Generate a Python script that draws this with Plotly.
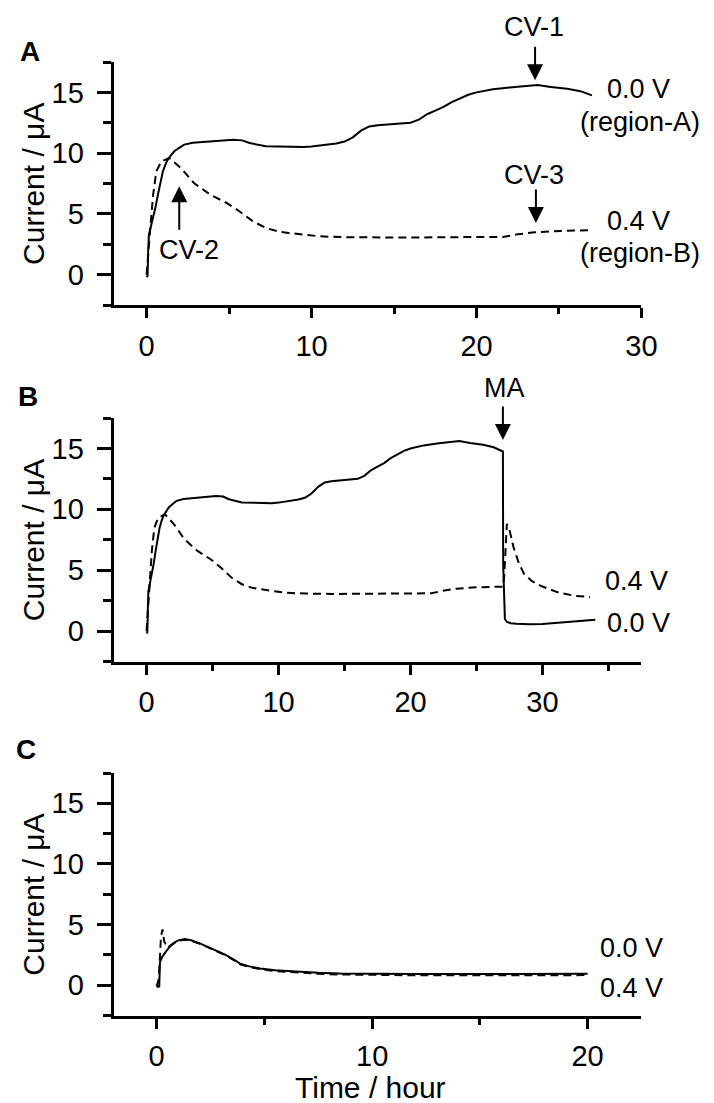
import plotly.graph_objects as go

# ---------------- data ----------------
# Panel A / B, 0.0 V (solid), time in hours, current in uA
t_00 = [0, 0.06, 0.1, 0.14, 0.25, 0.4, 0.55, 0.69, 0.85, 0.99, 1.15, 1.28, 1.5, 1.68, 2.0,
        2.28, 2.8, 3.27, 4.26, 5.25, 5.8, 6.24, 7.23, 8.6, 9.5, 10.0, 11.0, 11.5, 12.0, 12.5,
        13.0, 13.5, 14.0, 15.0, 16.0, 16.5, 17.0, 17.5, 18.0, 18.5, 19.0, 19.5, 20.0, 21.0,
        22.0, 23.0, 23.7, 24.5, 25.5, 26.3, 27.0]
i_00 = [-0.2, -0.1, 2.0, 3.3, 3.9, 4.66, 5.6, 6.6, 7.6, 8.5, 9.1, 9.46, 9.85, 10.15, 10.45,
        10.7, 10.85, 10.9, 10.95, 11.1, 11.05, 10.83, 10.56, 10.5, 10.5, 10.55, 10.7, 10.8,
        10.95, 11.3, 11.85, 12.2, 12.3, 12.4, 12.5, 12.75, 13.2, 13.5, 13.8, 14.2, 14.5, 14.8,
        15.0, 15.25, 15.4, 15.5, 15.6, 15.45, 15.3, 15.1, 14.75]

# Panel A / B, 0.4 V (dashed)
t_04 = [0, 0.08, 0.17, 0.26, 0.4, 0.59, 0.89, 1.38, 2.08, 2.87, 3.86, 4.85, 5.64, 6.43, 7.23,
        8.0, 8.6, 9.5, 10.5, 12.0, 14.0, 16.0, 18.0, 20.0, 21.6, 22.4, 23.5, 25.1, 26.0, 27.0]
i_04 = [0, 1.5, 3.3, 4.4, 6.6, 8.5, 9.3, 9.6, 8.77, 7.54, 6.58, 5.9, 5.2, 4.4, 3.84, 3.55,
        3.43, 3.3, 3.15, 3.08, 3.05, 3.05, 3.08, 3.1, 3.1, 3.3, 3.48, 3.6, 3.62, 3.65]

# Panel B, after MA addition (t > 27 h)
t_00_ma = [27.0, 27.02, 27.08, 27.15, 27.3, 27.6, 28.0, 29.0, 30.0, 31.0, 32.0, 33.0, 34.0]
i_00_ma = [14.75, 5.5, 2.0, 1.0, 0.75, 0.65, 0.6, 0.55, 0.58, 0.65, 0.72, 0.82, 0.92]
t_04_ma = [27.0, 27.1, 27.2, 27.3, 27.5, 27.8, 28.2, 28.6, 29.2, 29.9, 31.1, 32.4, 33.6]
i_04_ma = [3.65, 4.5, 6.5, 8.8, 8.3, 6.9, 5.6, 4.7, 4.1, 3.7, 3.2, 2.9, 2.8]

# Panel C
t_c00 = [0.0, 0.12, 0.15, 0.25, 0.4, 0.6, 0.8, 1.0, 1.3, 1.6, 2.0, 2.4, 2.8, 3.2, 3.6, 3.9,
         4.3, 4.8, 5.5, 6.5, 7.5, 8.5, 10, 12, 14, 16, 18, 20]
i_c00 = [-0.15, -0.1, 1.9, 2.3, 2.7, 3.15, 3.5, 3.7, 3.8, 3.7, 3.45, 3.15, 2.85, 2.5, 2.1,
         1.75, 1.55, 1.38, 1.23, 1.1, 1.03, 0.97, 0.93, 0.92, 0.92, 0.92, 0.93, 0.95]
t_c04 = [0.0, 0.1, 0.2, 0.27, 0.35, 0.5, 0.7, 1.0, 1.3, 1.6, 2.0, 2.4, 2.8, 3.2, 3.6, 3.9,
         4.3, 4.8, 5.5, 6.5, 7.5, 8.5, 10, 12, 14, 16, 18, 20]
i_c04 = [-0.1, 0.5, 4.0, 4.6, 3.6, 3.1, 3.35, 3.65, 3.75, 3.65, 3.42, 3.12, 2.82, 2.47, 2.05,
         1.7, 1.5, 1.32, 1.17, 1.03, 0.94, 0.88, 0.84, 0.82, 0.82, 0.82, 0.82, 0.83]

x_ticks_label_step = 10
y_ticks = [0, 5, 10, 15]

# ---------------- figure ----------------
W, H = 714, 1103
FONT = "Liberation Sans, Arial, sans-serif"

def px_x(p):
    return p / W

def px_y(p):
    return 1 - p / H

fig = go.Figure()
solid = dict(color="black", width=2)
dashed = dict(color="black", width=2, dash="8px,5px")

fig.add_trace(go.Scatter(x=t_00, y=i_00, mode="lines", line=solid, xaxis="x", yaxis="y"))
fig.add_trace(go.Scatter(x=t_04, y=i_04, mode="lines", line=dashed, xaxis="x", yaxis="y"))
fig.add_trace(go.Scatter(x=t_00 + t_00_ma[1:], y=i_00 + i_00_ma[1:], mode="lines", line=solid,
                         xaxis="x2", yaxis="y2"))
fig.add_trace(go.Scatter(x=t_04 + t_04_ma[1:], y=i_04 + i_04_ma[1:], mode="lines", line=dashed,
                         xaxis="x2", yaxis="y2"))
fig.add_trace(go.Scatter(x=t_c00, y=i_c00, mode="lines", line=solid, xaxis="x3", yaxis="y3"))
fig.add_trace(go.Scatter(x=t_c04, y=i_c04, mode="lines", line=dashed, xaxis="x3", yaxis="y3"))

tickfont = dict(family=FONT, size=29, color="black")

def xax(rng, anchor, domain):
    return dict(range=rng, anchor=anchor, domain=domain, showline=True, linecolor="black",
                linewidth=3, ticks="outside", ticklen=10, tickwidth=3, tickcolor="black",
                tick0=0, dtick=x_ticks_label_step, showgrid=False, zeroline=False,
                tickfont=tickfont, ticklabelstandoff=3,
                minor=dict(dtick=5, ticks="outside", ticklen=6, tickwidth=3,
                           tickcolor="black", showgrid=False))

def yax(anchor, domain):
    return dict(range=[-2.5, 17.5], anchor=anchor, domain=domain, showline=True,
                linecolor="black", linewidth=3, ticks="outside", ticklen=14, tickwidth=3,
                tickcolor="black", tickvals=y_ticks, showgrid=False, zeroline=False,
                tickfont=tickfont, ticklabelstandoff=7,
                minor=dict(dtick=2.5, ticks="outside", ticklen=8, tickwidth=3,
                           tickcolor="black", showgrid=False))

xdom = [px_x(108), px_x(648)]
fig.update_layout(
    width=W, height=H, autosize=False, showlegend=False,
    margin=dict(l=0, r=0, t=0, b=0),
    paper_bgcolor="white", plot_bgcolor="white",
    font=dict(family=FONT, color="black"),
    xaxis=xax([-2, 30], "y", xdom),
    yaxis=yax("x", [px_y(297), px_y(54)]),
    xaxis2=xax([-2.5, 37.5], "y2", xdom),
    yaxis2=yax("x2", [px_y(653.5), px_y(410)]),
    xaxis3=xax([-2, 22.5], "y3", xdom),
    yaxis3=yax("x3", [px_y(1007.5), px_y(765)]),
)

ann = []

def label(text, x, y, size=27, bold=False, angle=0):
    ann.append(dict(text=f"<b>{text}</b>" if bold else text, x=px_x(x), y=px_y(y),
                    xref="paper", yref="paper", xanchor="center", yanchor="middle",
                    showarrow=False, textangle=angle,
                    font=dict(family=FONT, size=size, color="black")))

def arrow(xr, yr, x, y, ay):
    ann.append(dict(text="", x=x, y=y, xref=xr, yref=yr, ax=0, ay=ay,
                    axref="pixel", ayref="pixel", showarrow=True, arrowhead=2,
                    arrowsize=1.6, arrowwidth=2, arrowcolor="black", standoff=0))

# panel letters
label("A", 23, 43, size=28, bold=True)
label("B", 20, 388, size=28, bold=True)
label("C", 18, 741, size=28, bold=True)

# y-axis titles
for yc in [(54 + 297) / 2, (410 + 653.5) / 2, (765 + 1007.5) / 2]:
    label("Current / \u03bcA", 26, yc, size=30, angle=-90)
# x-axis title
label("Time / hour", 371, 1079, size=30)

# panel A texts
label("CV-1", 538, 19)
label("0.0 V", 645, 81)
label("(region-A)", 646, 114)
label("CV-3", 538, 167)
label("0.4 V", 645, 213)
label("(region-B)", 646, 245)
label("CV-2", 185, 242)
arrow("x", "y", 23.55, 16.0, -35)
arrow("x", "y", 23.6, 4.25, -35)
arrow("x", "y", 1.98, 7.27, 45)

# panel B texts
label("MA", 508, 380)
label("0.4 V", 643, 573)
label("0.0 V", 645, 615)
arrow("x2", "y2", 27.0, 15.7, -35)

# panel C texts
label("0.0 V", 638, 940)
label("0.4 V", 638, 980)

fig.update_layout(annotations=ann)
fig.write_html("out.html")
